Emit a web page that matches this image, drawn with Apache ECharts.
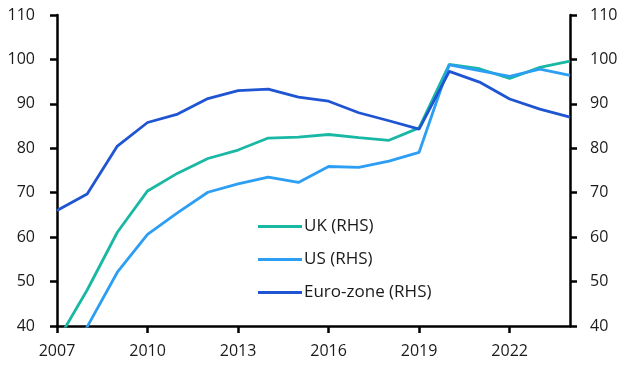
<!DOCTYPE html>
<html><head><meta charset="utf-8">
<script src="https://cdn.jsdelivr.net/npm/echarts@6/dist/echarts.min.js"></script>
<style>html,body{margin:0;padding:0;background:#fff}#c{width:628px;height:373px}</style>
</head><body><div id="c"></div>
<script>
const years = ['2007','2008','2009','2010','2011','2012','2013','2014','2015','2016','2017','2018','2019','2020','2021','2022','2023','2024'];
const uk = [36.5,48.1,61.1,70.4,74.4,77.7,79.6,82.3,82.5,83.1,82.4,81.8,84.6,98.9,97.9,95.7,98.2,99.6];
const us = [30.0,39.8,52.1,60.6,65.5,70.1,72.0,73.5,72.3,75.9,75.7,77.1,79.1,98.8,97.5,96.2,97.8,96.4];
const ez = [66.0,69.7,80.5,85.8,87.7,91.2,93.0,93.3,91.5,90.6,88.0,86.2,84.3,97.3,94.9,91.1,88.8,87.0];
const names = ['UK (RHS)','US (RHS)','Euro-zone (RHS)'];
const colors = ['#19b8a4','#2c9ef4','#1f55d2'];
const font = 'Open Sans';
function yAxisBase(pos, margin){
  return {
    type:'value', position:pos, min:40, max:110, interval:10,
    splitLine:{show:false},
    axisLine:{show:true,lineStyle:{color:'#000',width:2.5}},
    axisTick:{show:true,length:7,lineStyle:{color:'#000',width:2.5}},
    axisLabel:{color:'#1a1a1a',fontSize:16,fontFamily:font,margin:margin}
  };
}
const chart = echarts.init(document.getElementById('c'));
chart.setOption({
  animation:false,
  grid:{left:57,right:58,top:15,bottom:47},
  legend:{
    orient:'vertical', left:253, top:213, itemGap:16, itemWidth:44, itemHeight:3,
    icon:'rect',
    textStyle:{color:'#1a1a1a',fontSize:17,fontFamily:font,padding:[0,0,0,-3]},
    data:names
  },
  xAxis:{
    type:'category', data:years, boundaryGap:false,
    axisLine:{lineStyle:{color:'#000',width:2.5}},
    axisTick:{show:true,interval:2,length:7,lineStyle:{color:'#000',width:2.5}},
    axisLabel:{interval:2,color:'#1a1a1a',fontSize:16,fontFamily:font,margin:17}
  },
  yAxis:[yAxisBase('left',22), yAxisBase('right',20)],
  series:[
    {name:names[0],type:'line',yAxisIndex:1,data:uk,showSymbol:false,lineStyle:{width:2.8,color:colors[0]},itemStyle:{color:colors[0]}},
    {name:names[1],type:'line',yAxisIndex:1,data:us,showSymbol:false,lineStyle:{width:2.8,color:colors[1]},itemStyle:{color:colors[1]}},
    {name:names[2],type:'line',yAxisIndex:1,data:ez,showSymbol:false,lineStyle:{width:2.8,color:colors[2]},itemStyle:{color:colors[2]}}
  ]
});
</script></body></html>
